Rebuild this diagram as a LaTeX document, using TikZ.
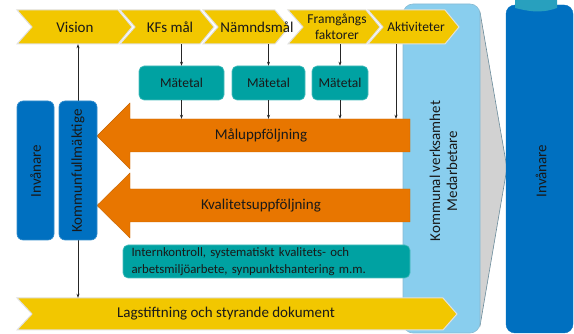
\documentclass[tikz,border=0pt]{standalone}
\usepackage{fontspec}
\setmainfont{Carlito}
\usetikzlibrary{arrows.meta}
\definecolor{yel}{RGB}{242,199,0}
\definecolor{tealc}{RGB}{0,162,162}
\definecolor{org}{RGB}{232,118,0}
\definecolor{dblue}{RGB}{0,112,192}
\definecolor{lblue}{RGB}{137,206,238}
\definecolor{gry}{RGB}{210,210,210}
\definecolor{txt}{RGB}{25,25,25}
\newcommand\chevshape[4]{\filldraw[chev] (#1,#3) -- (#2,#3) -- ({#2+14},{(#3+#4)/2}) -- (#2,#4) -- (#1,#4) -- ({#1+15},{(#3+#4)/2}) -- cycle;}
\begin{document}
\begin{tikzpicture}[x=1pt,y=-1pt,
  chev/.style={fill=yel,draw=white!88!black,line width=1pt},
  big/.style={font=\fontsize{15}{17}\selectfont,text=txt},
  small/.style={font=\fontsize{13.5}{16}\selectfont,text=txt},
  lbl/.style={big,inner sep=0,minimum height=34},
  metabox/.style={small,fill=tealc,draw=tealc!70!white,line width=0.6pt,rounded corners=5pt,minimum height=34,inner sep=0},
  bluebox/.style={fill=dblue,draw=dblue!80!white,line width=0.6pt,rounded corners=6pt},
  orgarrow/.style={fill=org,draw=org!85!black,line width=0.4pt},
  arr/.style={-{Stealth[length=4pt,width=3pt]},line width=0.6pt,draw=black!85},
  arrb/.style={{Stealth[length=4pt,width=3pt]}-{Stealth[length=4pt,width=3pt]},line width=0.6pt,draw=black!85}]
\useasboundingbox (0,0) rectangle (574,334);

% grey arrow behind light blue box
\filldraw[fill=gry,draw=black!30!lblue!70!gray,line width=0.6pt] (470,12) -- (480,12) -- (507,168) -- (480,326) -- (470,326) -- cycle;
% light blue box
\filldraw[fill=lblue,draw=lblue!75!gray,line width=0.6pt,rounded corners=10pt] (403,4) rectangle (480,333);
\node[big,rotate=90,align=center] (kv) at (443.5,171) {Kommunal verksamhet\\Medarbetare};

% right Invanare box
\filldraw[fill=dblue,draw=dblue,rounded corners=9pt] (506,5) rectangle (573,333);
\fill[fill={rgb,255:red,40;green,160;blue,190}] (515,0) -- (515,8) .. controls (528,11) and (540,14) .. (557,8) -- (557,0) -- cycle;
\node[big,rotate=90] (inv2) at (541,171) {Invånare};

% top chevrons
\chevshape{17}{118}{10}{44}
\chevshape{120}{200}{10}{44}
\chevshape{203}{275}{10}{44}
\chevshape{288}{366}{10}{44}
\chevshape{368}{445}{10}{44}
\node[lbl] (vision) at (75,27) {Vision};
\node[lbl] (kfs) at (170,27) {KFs mål};
\node[lbl] (nam) at (257,27) {Nämndsmål};
\node[lbl,small,align=center,font=\fontsize{13.5}{16}\selectfont] (fram) at (337,27) {Framgångs\\faktorer};
\node[lbl,small] (akt) at (416,27) {Aktiviteter};

% bottom chevron
\chevshape{17}{443}{298}{330}
\node[lbl,minimum height=32] (lag) at (226,314) {Lagstiftning och styrande dokument};

% Matetal boxes
\node[metabox,minimum width=85] (m1) at (181.5,83) {Mätetal};
\node[metabox,minimum width=73] (m2) at (268.5,83) {Mätetal};
\node[metabox,minimum width=56] (m3) at (340,83) {Mätetal};

% orange arrows
\filldraw[orgarrow] (410,119) -- (130,119) -- (130,103) -- (97,136) -- (130,169) -- (130,152) -- (410,152) -- cycle;
\node[big,minimum height=33,inner sep=0] (mal) at (261,135.5) {Måluppföljning};
\filldraw[orgarrow] (410,189) -- (130,189) -- (130,173) -- (97,205.5) -- (130,238) -- (130,222) -- (410,222) -- cycle;
\node[big,minimum height=33,inner sep=0] (kval) at (261,205.5) {Kvalitetsuppföljning};

% vertical double arrow behind left boxes
\coordinate (kfx) at (78,0);
\draw[arrb] (vision.south -| kfx) -- (lag.north -| kfx);

% left boxes
\filldraw[bluebox] (17,101) rectangle (54,240);
\node[big,rotate=90] (inv1) at (35.5,171) {Invånare};
\filldraw[bluebox] (59,101) rectangle (97,240);
\node[big,rotate=90] (kf) at (78,171) {Kommunfullmäktige};

% Internkontroll box
\node[metabox,minimum width=287,minimum height=33,align=left,text width=270,font=\fontsize{12.8}{17}\selectfont] (ik) at (266.5,261.5) {Internkontroll, systematiskt kvalitets- och\\arbetsmiljöarbete, synpunktshantering m.m.};

% connectors
\draw[arr] (m1.north |- kfs.south) -- (m1.north);
\draw[arr] (m2.north |- nam.south) -- (m2.north);
\draw[arr] (m3.north |- fram.south) -- (m3.north);
\draw[arr] (m1.south) -- (m1.south |- mal.north);
\draw[arr] (m2.south) -- (m2.south |- mal.north);
\draw[arr] (m3.south) -- (m3.south |- mal.north);
\coordinate (aktx) at (396,0);
\draw[arr] (akt.south -| aktx) -- (mal.north -| aktx);
\end{tikzpicture}
\end{document}
